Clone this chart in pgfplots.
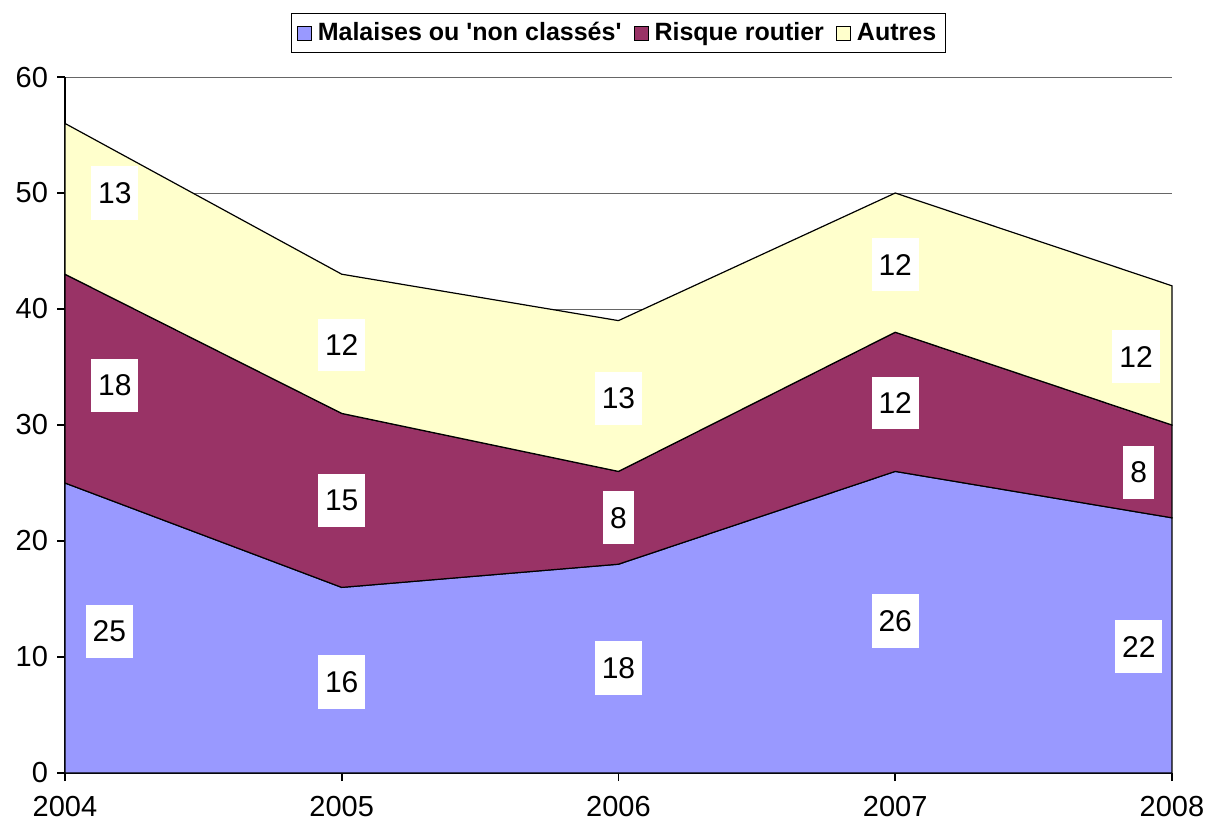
\documentclass[border=0pt]{standalone}
\usepackage{fontspec}
\setmainfont{Liberation Sans}
\usepackage{pgfplots}
\pgfplotsset{compat=1.18}
\definecolor{cblue}{HTML}{9999FF}
\definecolor{cmaroon}{HTML}{993366}
\definecolor{cyellow}{HTML}{FFFFCC}
\begin{document}
\begin{tikzpicture}
\useasboundingbox (-32.5pt,-27pt) rectangle (570.5pt,386.5pt);
\begin{axis}[
  scale only axis,
  width=553.5pt, height=348pt,
  at={(0,0)}, anchor=south west,
  xmin=2004, xmax=2008, ymin=0, ymax=60,
  xtick={2004,2005,2006,2007,2008},
  ytick={0,10,20,30,40,50,60},
  /pgf/number format/1000 sep={},
  /pgf/number format/assume math mode=true,
  axis x line*=bottom, axis y line*=left,
  axis line style={black, line width=0.8pt},
  tick align=outside,
  major tick length=4pt,
  tick style={black, line width=0.8pt},
  ymajorgrids, grid style={gray!80!black, line width=0.5pt},
  ticklabel style={font=\fontsize{14.5}{16}\selectfont},
  xticklabel style={yshift=-4pt},
  yticklabel style={xshift=-1pt},
  legend style={at={(0.5,1.063)}, anchor=center, draw=black, line width=0.6pt,
    font=\bfseries\fontsize{12.5}{14}\selectfont, legend columns=-1,
    inner sep=2.5pt,
    /tikz/every even column/.append style={column sep=4pt},
    /tikz/every odd column/.append style={column sep=1pt}},
  legend image code/.code={\draw[#1, draw=black, line width=0.5pt] (0pt,-3.5pt) rectangle (7pt,3.5pt);},
  clip=false,
]
\addplot[stack plots=y, fill=cblue, draw=black, line width=0.6pt] coordinates {(2004,25) (2005,16) (2006,18) (2007,26) (2008,22)} \closedcycle;
\addlegendentry{Malaises ou \textquotesingle non classés\textquotesingle}
\addplot[stack plots=y, fill=cmaroon, draw=black, line width=0.6pt] coordinates {(2004,18) (2005,15) (2006,8) (2007,12) (2008,8)} \closedcycle;
\addlegendentry{Risque routier}
\addplot[stack plots=y, fill=cyellow, draw=black, line width=0.6pt] coordinates {(2004,13) (2005,12) (2006,13) (2007,12) (2008,12)} \closedcycle;
\addlegendentry{Autres}
\addplot[stack plots=false, forget plot, only marks, mark=none,
  nodes near coords, point meta=explicit symbolic,
  nodes near coords style={fill=white, anchor=center, inner xsep=3.5pt, inner ysep=8pt, font=\fontsize{15}{17}\selectfont, text=black}]
  table[meta=label] {
x y label
2004.16 12.2 25
2004.18 33.4 18
2004.18 50.0 13
2005.0 7.85 16
2005.0 23.5 15
2005.0 36.9 12
2006.0 9.05 18
2006.0 22.0 8
2006.0 32.3 13
2007.0 13.1 26
2007.0 31.9 12
2007.0 43.8 12
2007.88 10.9 22
2007.88 25.9 8
2007.87 35.9 12
};
\end{axis}
\end{tikzpicture}
\end{document}
